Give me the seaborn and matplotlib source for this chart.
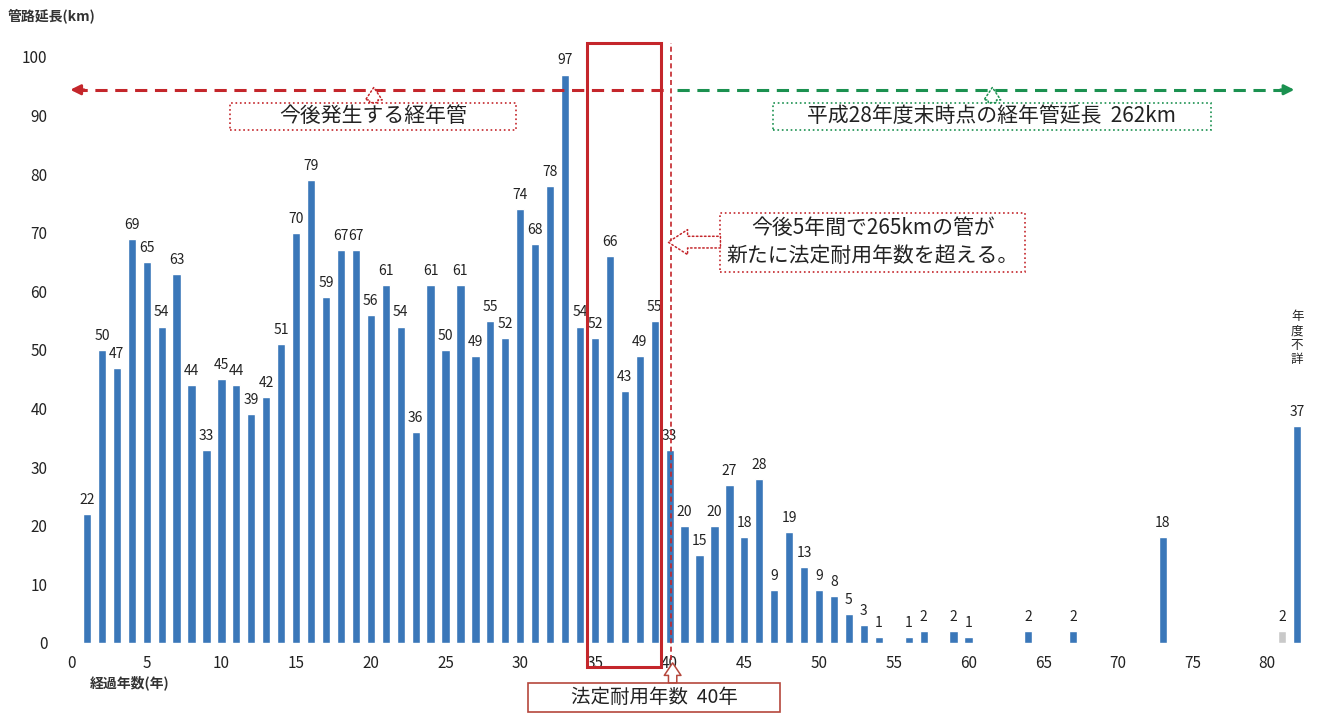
"""
経年管の延長分布 (経過年数別の管路延長)
"""

import pandas as pd
import matplotlib.pyplot as plt
import seaborn as sns
from matplotlib.patches import Rectangle

# 🔧 Data
years = list(range(1, 55)) + [56, 57, 59, 60, 64, 67, 73, 81, 82]
lengths = [22, 50, 47, 69, 65, 54, 63, 44, 33, 45,
           44, 39, 42, 51, 70, 79, 59, 67, 67, 56,
           61, 54, 36, 61, 50, 61, 49, 55, 52, 74,
           68, 78, 97, 54, 52, 66, 43, 49, 55, 33,
           20, 15, 20, 27, 18, 28, 9, 19, 13, 9,
           8, 5, 3, 1,
           1, 2, 2, 1, 2, 2, 18, 2, 37]
kinds = ['main'] * (len(years) - 2) + ['faint', 'main']
x_ticks = list(range(0, 81, 5))
y_ticks = list(range(0, 101, 10))

BLUE = '#3a77b9'
RED = '#c4262b'
GREEN = '#1b9150'
BROWN = '#b5473c'

df = pd.DataFrame({'year': years, 'km': lengths, 'kind': kinds})

sns.set_style('white')
plt.rcParams['font.family'] = ['Noto Sans CJK JP', 'DejaVu Sans']

fig = plt.figure(figsize=(13.36, 7.16), dpi=100)
ax = fig.add_axes([0.0427, 0.102, 0.9506, 0.8594])

sns.barplot(data=df, x='year', y='km', hue='kind', native_scale=True,
            palette={'main': BLUE, 'faint': '#c9c9c9'}, width=0.55,
            saturation=1, dodge=False, legend=False, ax=ax)

for x, v in zip(years, lengths):
    ax.text(x, v + 1.2, str(v), ha='center', va='bottom', fontsize=10,
            color='#222222')

ax.set_xlim(-1, 84)
ax.set_ylim(0, 105)
ax.set_xticks(x_ticks)
ax.set_yticks(y_ticks)
ax.tick_params(axis='both', length=0, labelsize=11, colors='#222222')
ax.tick_params(axis='x', pad=9)
ax.tick_params(axis='y', pad=7)
ax.set_xlabel('')
ax.set_ylabel('')
sns.despine(ax=ax, left=True, bottom=True)

fig.text(0.006, 0.978, '管路延長(km)', fontsize=10, fontweight='bold',
         color='#333333', va='center')
fig.text(0.067, 0.046, '経過年数(年)', fontsize=10, fontweight='bold',
         color='#333333', va='center')
ax.text(82, 52, '年\n度\n不\n詳', ha='center', va='center', fontsize=9,
        linespacing=1.15, color='#222222')

# 📦 Legal service life box (35-39 years) and 40-year line
ax.add_patch(Rectangle((34.45, -4.1), 5.0, 106.5, fill=False, ec=RED, lw=2.2,
                       clip_on=False, zorder=5))
ax.plot([40.1, 40.1], [-2.9, 102.4], color=RED, ls=(0, (3, 2)), lw=1.2,
        clip_on=False, zorder=5)

# ↔ dashed arrows
ax.plot([0.2, 40.0], [94.4, 94.4], color=RED, ls=(0, (4, 2.5)), lw=2.2,
        zorder=5)
ax.annotate('', xy=(-0.3, 94.4), xytext=(1.0, 94.4),
            arrowprops=dict(arrowstyle='-|>,head_width=0.3,head_length=0.6',
                            color=RED, lw=2))
ax.plot([40.5, 81.4], [94.4, 94.4], color=GREEN, ls=(0, (4, 2.5)), lw=2.2,
        zorder=5)
ax.annotate('', xy=(82.0, 94.4), xytext=(80.7, 94.4),
            arrowprops=dict(arrowstyle='-|>,head_width=0.3,head_length=0.6',
                            color=GREEN, lw=2))


def hollow_arrow(x0, y0, x1, y1, color, hw=0.6, tw=0.3, hl=0.45, ls=':'):
    ax.annotate('', xy=(x1, y1), xytext=(x0, y0), annotation_clip=False,
                arrowprops=dict(arrowstyle=f'simple,head_width={hw},'
                                f'head_length={hl},tail_width={tw}',
                                fc='white', ec=color, lw=1.1, ls=ls,
                                mutation_scale=20, shrinkA=0, shrinkB=0),
                zorder=6)


def label_box(x0, x1, y0, y1, text, color, ls=':', size=15):
    ax.add_patch(Rectangle((x0, y0), x1 - x0, y1 - y0, fc='white', ec=color,
                           lw=1.2, ls=ls, clip_on=False, zorder=6))
    ax.text((x0 + x1) / 2, (y0 + y1) / 2, text, ha='center', va='center',
            fontsize=size, color='#222222', linespacing=1.35, zorder=7,
            clip_on=False)


label_box(10.6, 29.7, 87.5, 92.2, '今後発生する経年管', RED)
hollow_arrow(20.2, 92.2, 20.2, 94.8, RED)
label_box(46.9, 76.2, 87.5, 92.2, '平成28年度末時点の経年管延長  262km', GREEN)
hollow_arrow(61.6, 92.2, 61.6, 94.8, GREEN)
label_box(43.4, 63.8, 63.3, 73.4,
          '今後5年間で265kmの管が\n新たに法定耐用年数を超える。', RED)
hollow_arrow(43.4, 68.4, 39.9, 68.4, RED, hw=0.9, tw=0.42, hl=0.7)
label_box(30.5, 47.4, -11.8, -6.8, '法定耐用年数  40年', BROWN, ls='-', size=14)
hollow_arrow(40.2, -6.8, 40.2, -3.4, BROWN, ls='-')

fig.savefig('out.png', dpi=100, facecolor='white')
plt.close(fig)
